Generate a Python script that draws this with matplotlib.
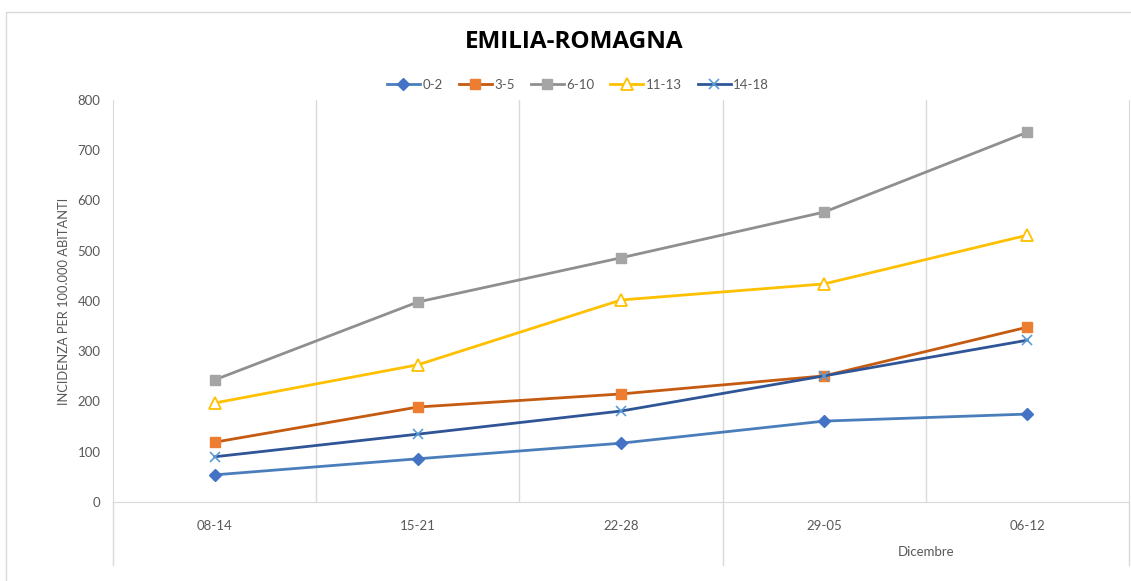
import matplotlib
matplotlib.use('Agg')
import matplotlib.pyplot as plt
import matplotlib.transforms as mtransforms

# dati
settimane = ['08-14', '15-21', '22-28', '29-05', '06-12']
eta_02 = [54, 86, 117, 161, 175]
eta_35 = [119, 189, 215, 251, 348]
eta_610 = [243, 398, 486, 577, 736]
eta_1113 = [197, 273, 402, 434, 531]
eta_1418 = [90, 135, 181, 251, 322]

plt.rcParams['font.family'] = ['Lato', 'DejaVu Sans']

fig = plt.figure(figsize=(11.31, 5.81), dpi=100)
ax = fig.add_axes([113 / 1131, 1 - 502 / 581, 1016 / 1131, 402 / 581])

x = list(range(len(settimane)))

ax.plot(x, eta_02, '-', color='#4a7ebb', lw=2, marker='D', ms=6.5,
        mfc='#4472c4', mec='#4472c4', label='0-2')
ax.plot(x, eta_35, '-', color='#c55a11', lw=2, marker='s', ms=7.5,
        mfc='#ed7d31', mec='#ed7d31', label='3-5')
ax.plot(x, eta_610, '-', color='#8f8f8f', lw=2, marker='s', ms=7.5,
        mfc='#a5a5a5', mec='#a5a5a5', label='6-10')
ax.plot(x, eta_1113, '-', color='#ffc000', lw=2, marker='^', ms=8,
        mfc='white', mec='#ffc000', mew=1.3, label='11-13')
ax.plot(x, eta_1418, '-', color='#2f5597', lw=2, marker='x', ms=7.5,
        mec='#5b9bd5', mew=1.2, label='14-18')

ax.set_xlim(-0.5, len(settimane) - 0.5)
ax.set_ylim(0, 800)
ax.set_yticks(range(0, 801, 100))
ax.set_xticks(x)
ax.set_xticklabels(settimane)
ax.set_xticks([i + 0.5 for i in x[:-1]], minor=True)
ax.grid(True, which='minor', axis='x', color='#d9d9d9', lw=1)
ax.tick_params(which='both', length=0)
ax.tick_params(axis='x', pad=13, labelsize=9.5, colors='#595959')
ax.tick_params(axis='y', pad=9, labelsize=9.5, colors='#595959')

for s in ['top']:
    ax.spines[s].set_visible(False)
for s in ['left', 'right', 'bottom']:
    ax.spines[s].set_color('#d9d9d9')

# linee del raggruppamento sotto l'asse
trans = mtransforms.blended_transform_factory(ax.transData, ax.transAxes)
for xv in [-0.5, 2.5, len(settimane) - 0.5]:
    ax.plot([xv, xv], [0, -63 / 402], color='#d9d9d9', lw=1,
            transform=trans, clip_on=False)
ax.text(3.5, -50 / 402, 'Dicembre', transform=trans, ha='center', va='center',
        fontsize=9.5, color='#595959')

ax.set_ylabel('INCIDENZA PER 100.000 ABITANTI', fontsize=9.3, color='#595959')
ax.yaxis.set_label_coords(-43 / 1016, 0.5)

fig.text(574 / 1131, 1 - 42 / 581, 'EMILIA-ROMAGNA', ha='center', va='center',
         fontsize=17.5, fontweight='bold', family=['Open Sans', 'DejaVu Sans'],
         color='black')

fig.legend(loc='center', bbox_to_anchor=(578 / 1131, 1 - 85 / 581), ncol=5,
           frameon=False, fontsize=9.5, labelcolor='#595959',
           handlelength=2.5, handletextpad=0.2, columnspacing=1.2)

# cornice del grafico
fig.add_artist(plt.Rectangle((6 / 1131, -0.05), 1.1, 1 - 12 / 581 + 0.05,
                             transform=fig.transFigure, fill=False,
                             ec='#d9d9d9', lw=1))

fig.savefig('out.png', dpi=100)
